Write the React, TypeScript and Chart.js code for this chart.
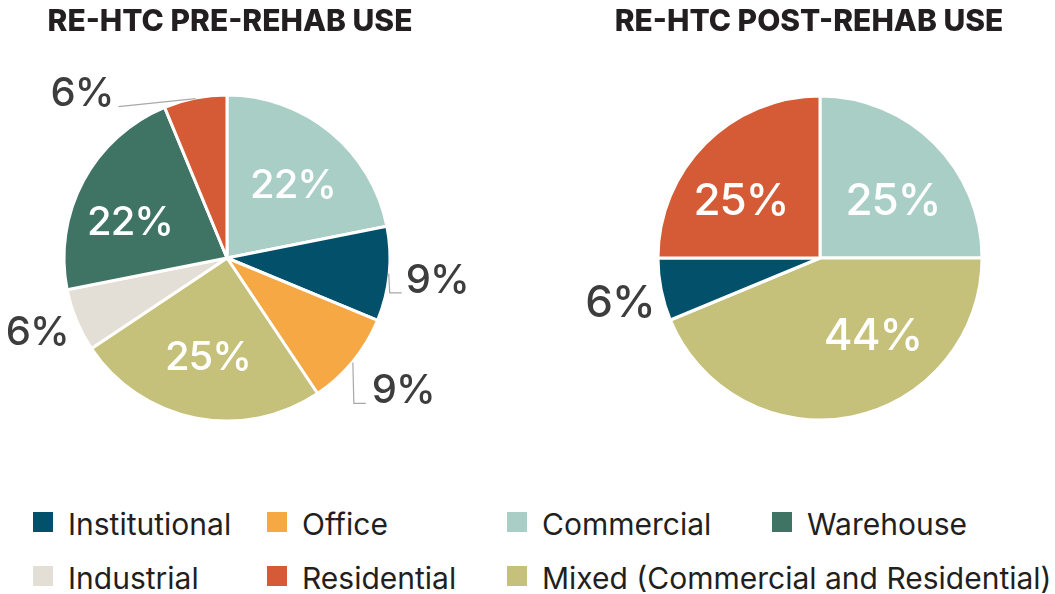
import React, { useEffect, useRef } from "react";
import { Chart, registerables } from "chart.js";

Chart.register(...registerables);

// ---------- DATA ----------
// Number of projects per use (shares shown as rounded percentages)
const preCategories = [
  "Commercial",
  "Institutional",
  "Office",
  "Mixed (Commercial and Residential)",
  "Industrial",
  "Warehouse",
  "Residential",
];
const preValues = [7, 3, 3, 8, 2, 7, 2]; // 22%, 9%, 9%, 25%, 6%, 22%, 6%

const postCategories = [
  "Commercial",
  "Mixed (Commercial and Residential)",
  "Institutional",
  "Residential",
];
const postValues = [4, 7, 1, 4]; // 25%, 44%, 6%, 25%

const legendRow1 = ["Institutional", "Office", "Commercial", "Warehouse"];
const legendRow2 = ["Industrial", "Residential", "Mixed (Commercial and Residential)"];

const titles = ["RE-HTC PRE-REHAB USE", "RE-HTC POST-REHAB USE"];

// ---------- STYLE ----------
const COLORS: Record<string, string> = {
  Institutional: "#02506a",
  Office: "#f6a845",
  Commercial: "#a9cec6",
  Warehouse: "#3f7464",
  Industrial: "#e4dfd6",
  Residential: "#d45b35",
  "Mixed (Commercial and Residential)": "#c5c17a",
};

const FONT = "Inter, 'Noto Sans', sans-serif";

// label placement (relative to pie centre for inside labels, to arc mid-point for outside ones)
const preLabelLayout = [
  { kind: "in", dx: 66, dy: -75 },
  { kind: "out", path: [[1, 0], [2, 19], [14, 19]], tx: 18, ty: 19, align: "left" },
  { kind: "out", path: [[1, 2], [2, 43], [14, 43]], tx: 20, ty: 43, align: "left" },
  { kind: "in", dx: -19, dy: 97 },
  { kind: "out", path: null, tx: -9, ty: 25, align: "right" },
  { kind: "in", dx: -97, dy: -38 },
  { kind: "out", path: [[0, -1], [-77, 7]], tx: -82, ty: 6, align: "right" },
];
const postLabelLayout = [
  { kind: "in", dx: 73, dy: -59 },
  { kind: "in", dx: 53, dy: 76 },
  { kind: "out", path: null, tx: -8, ty: 28, align: "right" },
  { kind: "in", dx: -79, dy: -59 },
];

const sliceLabels = {
  id: "sliceLabels",
  afterDatasetsDraw(chart: any, _args: any, opts: any) {
    const ctx = chart.ctx as CanvasRenderingContext2D;
    const meta = chart.getDatasetMeta(0);
    const data = chart.data.datasets[0].data as number[];
    const total = data.reduce((a, b) => a + b, 0);
    const fs = opts.fontSize as number;
    meta.data.forEach((arc: any, i: number) => {
      const { x, y, startAngle, endAngle, outerRadius } = arc.getProps(
        ["x", "y", "startAngle", "endAngle", "outerRadius"],
        true
      );
      const lay = opts.layout[i];
      const text = Math.round((data[i] / total) * 100) + "%";
      ctx.save();
      ctx.font = `500 ${fs}px ${FONT}`;
      (ctx as any).letterSpacing = "-1px";
      ctx.textBaseline = "alphabetic";
      if (lay.kind === "in") {
        ctx.fillStyle = "#ffffff";
        ctx.textAlign = "center";
        ctx.fillText(text, x + lay.dx, y + lay.dy + fs * 0.364);
      } else {
        const mid = (startAngle + endAngle) / 2;
        const r = outerRadius - 1.5;
        const px = x + Math.cos(mid) * r;
        const py = y + Math.sin(mid) * r;
        if (lay.path) {
          ctx.strokeStyle = "#a8a8a8";
          ctx.lineWidth = 1.2;
          ctx.beginPath();
          lay.path.forEach((p: number[], k: number) => {
            if (k === 0) ctx.moveTo(px + p[0], py + p[1]);
            else ctx.lineTo(px + p[0], py + p[1]);
          });
          ctx.stroke();
        }
        ctx.fillStyle = "#3d3d3d";
        ctx.textAlign = lay.align;
        ctx.fillText(text, px + lay.tx, py + lay.ty);
      }
      ctx.restore();
    });
  },
};

function PieCanvas(props: {
  labels: string[];
  values: number[];
  layout: any[];
  fontSize: number;
  width: number;
  height: number;
  padding: { left: number; right: number; top: number; bottom: number };
  radius: number;
  left: number;
}) {
  const ref = useRef<HTMLCanvasElement>(null);
  useEffect(() => {
    if (!ref.current) return;
    const chart = new Chart(ref.current, {
      type: "pie",
      data: {
        labels: props.labels,
        datasets: [
          {
            data: props.values,
            backgroundColor: props.labels.map((l) => COLORS[l]),
            borderColor: "#ffffff",
            borderWidth: 3,
            hoverOffset: 0,
          },
        ],
      },
      options: {
        responsive: false,
        animation: false,
        devicePixelRatio: 1,
        radius: props.radius,
        layout: { padding: props.padding },
        plugins: {
          legend: { display: false },
          tooltip: { enabled: false },
          title: { display: false },
          sliceLabels: { layout: props.layout, fontSize: props.fontSize },
        } as any,
        events: [],
      } as any,
      plugins: [sliceLabels as any],
    });
    return () => chart.destroy();
  }, []);
  return (
    <canvas
      ref={ref}
      width={props.width}
      height={props.height}
      style={{ position: "absolute", left: props.left, top: 0, width: props.width, height: props.height }}
    />
  );
}

function LegendItem({ label, sx, sy }: { label: string; sx: number; sy: number }) {
  return (
    <>
      <div
        style={{
          position: "absolute",
          left: sx,
          top: sy,
          width: 20,
          height: 20,
          background: COLORS[label],
        }}
      />
      <div
        style={{
          position: "absolute",
          left: sx + 35,
          top: sy - 3,
          fontFamily: FONT,
          fontSize: 30,
          lineHeight: "30px",
          color: "#231f20",
          whiteSpace: "nowrap",
        }}
      >
        {label}
      </div>
    </>
  );
}

export default function App() {
  const colX = [33, 267, 507, 772];
  return (
    <div
      style={{
        position: "absolute",
        left: 0,
        top: 0,
        width: 1055,
        height: 594,
        background: "#ffffff",
        overflow: "hidden",
      }}
    >
      <PieCanvas
        labels={preCategories}
        values={preValues}
        layout={preLabelLayout}
        fontSize={40}
        width={527}
        height={480}
        padding={{ left: 0, right: 73, top: 36, bottom: 0 }}
        radius={163}
        left={0}
      />
      <PieCanvas
        labels={postCategories}
        values={postValues}
        layout={postLabelLayout}
        fontSize={44}
        width={528}
        height={480}
        padding={{ left: 58, right: 0, top: 36, bottom: 0 }}
        radius={162}
        left={527}
      />
      {titles.map((t, i) => (
        <div
          key={t}
          style={{
            position: "absolute",
            left: i === 0 ? 230 - 300 : 809 - 300,
            width: 600,
            top: 5,
            textAlign: "center",
            fontFamily: FONT,
            fontWeight: 800,
            fontSize: 30,
            lineHeight: "30px",
            color: "#231f20",
            letterSpacing: "0px",
          }}
        >
          {t}
        </div>
      ))}
      {legendRow1.map((l, i) => (
        <LegendItem key={l} label={l} sx={colX[i]} sy={512} />
      ))}
      {legendRow2.map((l, i) => (
        <LegendItem key={l} label={l} sx={colX[i]} sy={566} />
      ))}
    </div>
  );
}
